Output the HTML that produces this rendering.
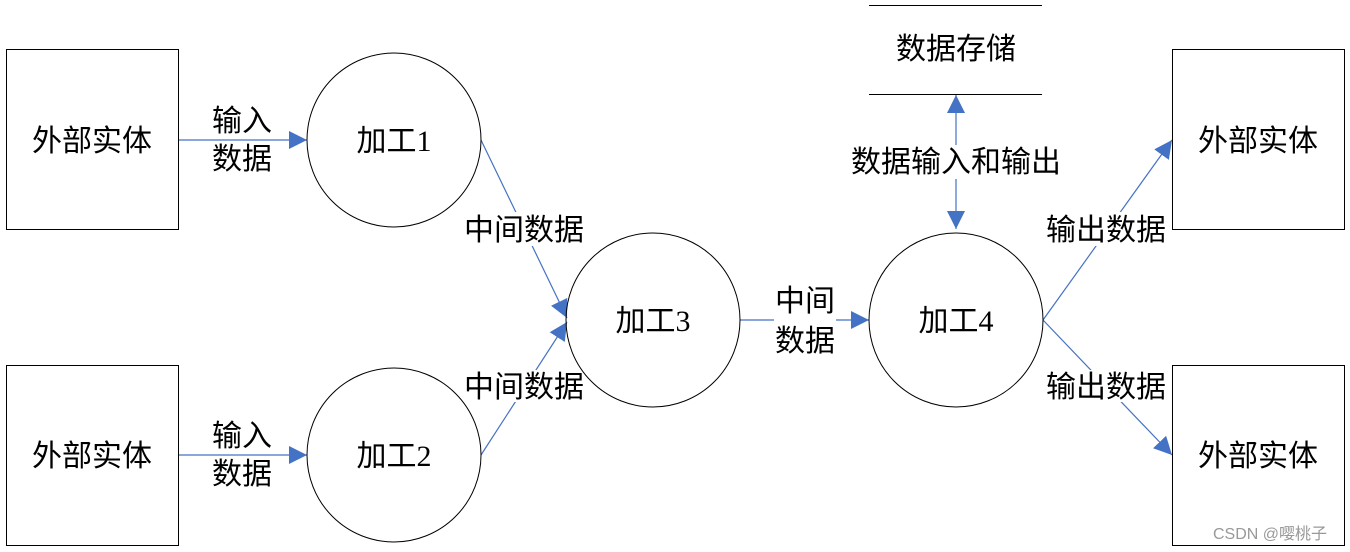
<!DOCTYPE html>
<html><head><meta charset="utf-8"><style>
html,body{margin:0;padding:0;background:#fff;width:1350px;height:552px;overflow:hidden}
svg text{font-family:"Liberation Serif","Noto Sans CJK SC",serif;font-size:30px;fill:#000}
</style></head><body>
<svg width="1350" height="552" viewBox="0 0 1350 552">
<defs><marker id="a" viewBox="0 0 10 10" refX="10" refY="5" markerWidth="18" markerHeight="18" markerUnits="userSpaceOnUse" orient="auto-start-reverse"><path d="M0,0L10,5L0,10z" fill="#4472C4"/></marker></defs>
<g stroke="#4472C4" stroke-width="1.2" fill="none" marker-end="url(#a)">
<line x1="178" y1="140" x2="307" y2="140"/>
<line x1="178" y1="455" x2="307" y2="455"/>
<line x1="481" y1="140" x2="567" y2="318"/>
<line x1="481" y1="455" x2="567" y2="322"/>
<line x1="740" y1="320" x2="869" y2="320"/>
<line x1="956" y1="229" x2="956" y2="95" marker-start="url(#a)"/>
<line x1="1043" y1="320" x2="1172" y2="140"/>
<line x1="1043" y1="320" x2="1172" y2="455"/>
</g>
<g fill="#fff">
<rect x="500" y="212" width="50" height="34"/>
<rect x="500" y="370" width="50" height="32"/>
<rect x="1080" y="212" width="50" height="34"/>
<rect x="1080" y="370" width="50" height="32"/>
<rect x="930" y="145" width="50" height="34"/>
<rect x="774" y="284" width="62" height="72"/>
</g>
<g fill="none" stroke="#000" stroke-width="1">
<rect x="6.5" y="49.5" width="172" height="180"/>
<rect x="6.5" y="365.5" width="172" height="180"/>
<rect x="1172.5" y="49.5" width="172" height="180"/>
<rect x="1172.5" y="365.5" width="172" height="180"/>
<circle cx="394" cy="140" r="87"/>
<circle cx="394" cy="455" r="87"/>
<circle cx="653" cy="320" r="87"/>
<circle cx="956" cy="320" r="87"/>
<line x1="869" y1="5.5" x2="1042" y2="5.5"/>
<line x1="869" y1="94.5" x2="1042" y2="94.5"/>
</g>
<g text-anchor="middle">
<text x="92" y="151">外部实体</text>
<text x="92" y="466">外部实体</text>
<text x="1258" y="151">外部实体</text>
<text x="1258" y="466">外部实体</text>
<text x="394" y="151">加工1</text>
<text x="394" y="466">加工2</text>
<text x="653" y="331">加工3</text>
<text x="956" y="331">加工4</text>
<text x="956" y="59">数据存储</text>
<text x="242" y="131">输入</text>
<text x="242" y="169">数据</text>
<text x="242" y="446">输入</text>
<text x="242" y="484">数据</text>
<text x="524" y="240">中间数据</text>
<text x="524" y="397">中间数据</text>
<text x="805" y="311">中间</text>
<text x="805" y="351">数据</text>
<text x="956" y="172">数据输入和输出</text>
<text x="1106" y="240">输出数据</text>
<text x="1106" y="397">输出数据</text>
<text x="1270" y="539" style="font-family:'Liberation Sans','Noto Sans CJK SC',sans-serif;font-size:16px;fill:#999">CSDN @嘤桃子</text>
</g>
</svg>
</body></html>
